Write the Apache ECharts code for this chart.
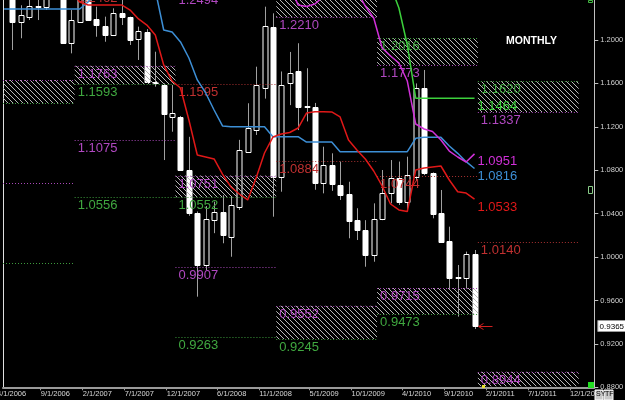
<!DOCTYPE html>
<html><head><meta charset="utf-8">
<script src="https://cdn.jsdelivr.net/npm/echarts@6/dist/echarts.min.js"></script>
<style>html,body{margin:0;padding:0;background:#000;}#c{width:625px;height:400px;}</style>
</head><body><div id="c"></div>
<script>
// ---- candles (month index: 0 = Apr 2006) ----
const months = [2,3,4,5,6,7,8,9,10,11,12,13,14,15,16,17,18,19,20,21,22,23,24,25,26,27,28,29,30,31,32,33,34,35,36,37,38,39,40,41,42,43,44,45,46,47,48,49,50,51,52,53,54,55,56,57];
const opens  = [1.2450,1.2169,1.2215,1.2313,1.2300,1.2420,1.2450,1.1970,1.2170,1.2400,1.2191,1.2129,1.2046,1.2246,1.2209,1.2007,1.2077,1.1616,1.1585,1.1294,1.1293,1.0802,1.0403,0.9927,1.0340,1.0418,1.0187,1.0464,1.0971,1.1171,1.1555,1.2123,1.0741,1.1601,1.1714,1.1380,1.1385,1.0685,1.0848,1.0664,1.0581,1.0341,1.0249,1.0019,1.0348,1.0588,1.0726,1.0510,1.0735,1.1555,1.0772,1.0403,1.0151,0.9804,0.9804,1.0028];
const highs  = [1.2500,1.2320,1.2380,1.2400,1.2450,1.2600,1.2500,1.2276,1.2450,1.2450,1.2307,1.2215,1.2292,1.2380,1.2215,1.2123,1.2100,1.1892,1.1600,1.1585,1.1300,1.1108,1.0420,1.0470,1.0510,1.0570,1.0556,1.1080,1.1417,1.1754,1.2307,1.2246,1.1710,1.1890,1.1970,1.1740,1.1420,1.1017,1.0956,1.0880,1.0694,1.0450,1.0340,1.0495,1.0802,1.0894,1.0880,1.0925,1.1600,1.1724,1.0780,1.0618,1.0280,0.9927,1.0050,1.0065];
const lows   = [1.1908,1.2016,1.2184,1.2184,1.2277,1.2390,1.1965,1.1877,1.2160,1.2184,1.2030,1.1984,1.2040,1.2138,1.1954,1.1816,1.1616,1.1570,1.0894,1.1155,1.0795,1.0380,0.9635,0.9880,1.0220,1.0127,1.0003,1.0434,1.0960,1.1125,1.1460,1.0372,1.0602,1.1400,1.1170,1.1250,1.0620,1.0587,1.0610,1.0526,1.0173,1.0157,0.9911,0.9957,1.0340,1.0495,1.0480,1.0420,1.0700,1.0755,1.0357,1.0132,0.9697,0.9451,0.9710,0.9337];
const closes = [1.2169,1.2230,1.2313,1.2315,1.2400,1.2550,1.1970,1.2184,1.2400,1.2184,1.2138,1.2046,1.2246,1.2209,1.2000,1.2083,1.1616,1.1600,1.1315,1.1330,1.0802,1.0403,0.9927,1.0348,1.0417,1.0203,1.0480,1.0987,1.1186,1.1585,1.2129,1.0740,1.1585,1.1693,1.1380,1.1390,1.0685,1.0848,1.0673,1.0572,1.0335,1.0249,1.0019,1.0348,1.0593,1.0726,1.0510,1.0756,1.1555,1.0772,1.0397,1.0140,0.9804,0.9813,1.0028,0.9365];

// ---- indicator lines ----
const blueMonths = [1,2,3,4,5,6,7,8,9,10,11,12,13,14,15,16,17,18,19,20,21,22,23,24,25,26,27,28,29,30,31,32,33,34,35,36,37,38,39,40,41,42,43,44,45,46,47,48,49,50,51,52,53,54,55,56,57];
const blueValues = [1.2286,1.2286,1.2286,1.2286,1.2286,1.2286,1.2286,1.2286,1.2286,1.2286,1.2350,1.2450,1.2450,1.2450,1.2450,1.2450,1.2450,1.2450,1.2460,1.2092,1.2074,1.1982,1.1834,1.1632,1.1512,1.1355,1.1208,1.1201,1.1201,1.1201,1.1201,1.1201,1.1109,1.1109,1.1109,1.1109,1.1060,1.1060,1.1060,1.1060,1.0971,1.0971,1.0971,1.0971,1.0971,1.0971,1.0971,1.0971,1.0971,1.1094,1.1103,1.1103,1.1103,1.1023,1.0956,1.0879,1.0816];
const redMonths = [9,10,11,12,13,14,15,16,17,18,19,20,21,22,23,24,25,26,27,28,29,30,31,32,33,34,35,36,37,38,39,40,41,42,43,44,45,46,47,48,49,50,51,52,53,54,55,56,57];
const redValues = [1.2450,1.2350,1.2323,1.2323,1.2323,1.2323,1.2323,1.2276,1.2194,1.2138,1.2046,1.1770,1.1622,1.1558,1.1263,1.0940,1.0922,1.0904,1.0765,1.0646,1.0581,1.0526,1.0729,1.0959,1.1106,1.1134,1.1148,1.1189,1.1327,1.1339,1.1339,1.1337,1.1291,1.1079,1.0987,1.0904,1.0793,1.0655,1.0489,1.0434,1.0420,1.0802,1.0821,1.0830,1.0839,1.0710,1.0602,1.0590,1.0533];
const magentaMonths = [35,36,37,38,39,40,41,42,43,44,45,46,47,48,49,50,51,52,53,54,55,56,57];
const magentaValues = [1.2500,1.2323,1.2309,1.2332,1.2400,1.2500,1.2500,1.2500,1.2450,1.2313,1.2203,1.1926,1.1853,1.1788,1.1622,1.1226,1.1180,1.1157,1.1079,1.0977,1.0922,1.0876,1.0951];
const greenMonths = [47,48,49,50,51,52,53,54,55,56,57];
const greenValues = [1.2500,1.2295,1.1954,1.1464,1.1464,1.1464,1.1464,1.1464,1.1464,1.1464,1.1464];

// ---- yearly periods and pivot levels ----
const periodStart = [0.87, 9.4, 21.4, 33.4, 45.4, 57.4];
const periodEnd   = [9.4, 21.4, 33.4, 45.4, 57.4, 69.4];
const levelPeriod = [0,0,0,0, 1,1,1,1,1, 2,2,2,2,2,2, 3,3,3,3,3, 4,4,4,4,4, 5,5,5,5];
const levelKind   = ['m','g','m','g', 'r','m','g','m','g', 'm','r','m','g','m','g', 'g','m','r','m','g', 'g','m','r','m','g', 'g','m','r','m'];
const levelValue  = [1.1631,1.1417,1.0682,0.9948, 1.2462,1.1763,1.1593,1.1075,1.0556, 1.2445,1.1595,1.0751,1.0552,0.9907,0.9263, 1.2600,1.2210,1.0884,0.9552,0.9245, 1.2016,1.1773,1.0744,0.9715,0.9473, 1.1620,1.1337,1.0140,0.8944];
const levelText   = ['','','','', '1.2462','1.1763','1.1593','1.1075','1.0556', '1.2494','1.1595','1.0751','1.0552','0.9907','0.9263', '','1.2210','1.0884','0.9552','0.9245', '1.2016','1.1773','1.0744','0.9715','0.9473', '1.1620','1.1337','1.0140','0.8944'];
const zonePeriod = [0,1,2,3,3,4,4,5,5];
const zoneTop    = [1.1631,1.1763,1.0751,1.2600,0.9552,1.2016,0.9715,1.1620,0.8944];
const zoneBottom = [1.1417,1.1593,1.0552,1.2210,0.9245,1.1773,0.9473,1.1337,0.8600];

// ---- axis ticks ----
const tickMonths = [5,10,15,20,26,31,37,42,48,53,58,63,68];
const tickLabels = ['9/1/2006','2/1/2007','7/1/2007','12/1/2007','6/1/2008','11/1/2008','5/1/2009','10/1/2009','4/1/2010','9/1/2010','2/1/2011','7/1/2011','12/1/2011'];
const firstLabel = '4/1/2006';
const lastMonth = months[months.length - 1];
const lastPrice = closes[closes.length - 1];

const FONT = '"Liberation Sans", Arial, sans-serif';
const lineCol = { m: '#a848b8', g: '#3c9a3c', r: '#a83030' };
const textCol = { m: '#b048c0', g: '#40a840', r: '#c03030' };

// hatch pattern
const pc = document.createElement('canvas');
pc.width = 5; pc.height = 5;
const g2 = pc.getContext('2d');
g2.strokeStyle = '#b8b8b8'; g2.lineWidth = 1;
for (let k = -5; k <= 5; k += 5) { g2.beginPath(); g2.moveTo(k, 0); g2.lineTo(k + 5, 5); g2.stroke(); }

const chart = echarts.init(document.getElementById('c'));
const TICK_OFF = 0.36;

function candleItem(params, api) {
  const x = api.value(0), o = api.value(1), h = api.value(2), l = api.value(3), c = api.value(4);
  const pO = api.coord([x, o]), pC = api.coord([x, c]), pH = api.coord([x, h]), pL = api.coord([x, l]);
  const xm = Math.round(pO[0]) + 0.5;
  const top = Math.round(Math.min(pO[1], pC[1])) + 0.5, bot = Math.round(Math.max(pO[1], pC[1])) + 0.5;
  const up = c >= o;
  return { type: 'group', children: [
    { type: 'line', shape: { x1: xm, y1: pH[1], x2: xm, y2: pL[1] }, style: { stroke: '#a0a0a0', lineWidth: 1 } },
    { type: 'rect', shape: { x: xm - 2.5, y: top, width: 5, height: Math.max(bot - top, 1) },
      style: { fill: up ? '#000' : '#fff', stroke: '#fff', lineWidth: 1 } }
  ]};
}

function levelItem(params, api) {
  const i = params.dataIndex;
  const p0 = api.coord([api.value(0), api.value(2)]);
  const p1 = api.coord([api.value(1), api.value(2)]);
  const y = Math.round(p0[1]) + 0.5;
  const k = levelKind[i];
  const ch = [{ type: 'line', shape: { x1: p0[0], y1: y, x2: p1[0], y2: y },
    style: { stroke: lineCol[k], lineWidth: 1, lineDash: [1, 2] } }];
  if (levelText[i]) {
    ch.push({ type: 'text', x: p0[0] + 3, y: y + 8, style: { text: levelText[i], fill: textCol[k],
      fontSize: 13, fontFamily: FONT, align: 'left', verticalAlign: 'middle' } });
  }
  return { type: 'group', children: ch };
}

function zoneItem(params, api) {
  const cs = params.coordSys;
  const p0 = api.coord([api.value(0), api.value(2)]);
  const p1 = api.coord([api.value(1), api.value(3)]);
  const y0 = Math.max(p0[1], cs.y), y1 = Math.min(p1[1], cs.y + cs.height - 1);
  return { type: 'rect', shape: { x: p0[0], y: y0, width: p1[0] - p0[0], height: Math.max(y1 - y0, 0) },
    style: { fill: { image: pc, repeat: 'repeat' } } };
}

function arrowItem(params, api) {
  const p = api.coord([api.value(0), api.value(1)]);
  const y = Math.round(p[1]) + 0.5;
  return { type: 'group', children: [
    { type: 'line', shape: { x1: p[0] + 4, y1: y, x2: p[0] + 18, y2: y }, style: { stroke: '#d02020', lineWidth: 1 } },
    { type: 'polyline', shape: { points: [[p[0] + 9, y - 3], [p[0] + 4, y], [p[0] + 9, y + 3]] }, style: { stroke: '#d02020', fill: null, lineWidth: 1 } }
  ]};
}

function priceTagItem(params, api) {
  const cs = params.coordSys;
  const p = api.coord([api.value(0), api.value(1)]);
  const y = Math.round(p[1]);
  const x0 = cs.x + cs.width + 3;
  return { type: 'group', children: [
    { type: 'rect', shape: { x: x0 + 0.5, y: y - 5.5, width: 28, height: 11 }, style: { fill: '#ffffff', stroke: '#9a9a9a', lineWidth: 1 } },
    { type: 'text', x: x0 + 14.5, y: y + 0.5, style: { text: api.value(1).toFixed(4), fill: '#000', fontSize: 8, fontFamily: FONT, align: 'center', verticalAlign: 'middle' } }
  ]};
}

function lineSeries(name, xs, ys, color) {
  return {
    name, type: 'line', data: xs.map((m, i) => [m, ys[i]]), symbol: 'none', z: 6,
    lineStyle: { color, width: 1.5 }, itemStyle: { color }, animation: false,
    endLabel: { show: true, formatter: p => p.value[1].toFixed(4), color, fontSize: 13, fontFamily: FONT, offset: [0, 8], distance: 3 }
  };
}

chart.setOption({
  backgroundColor: '#000',
  animation: false,
  grid: { left: 3, right: 30.7, top: 0, bottom: 12.7, outerBoundsMode: 'none', containLabel: false },
  xAxis: [{
    type: 'value', min: 0.87, max: 71.26,
    axisLine: { show: true, onZero: false, lineStyle: { color: '#9a9a9a', width: 2 } },
    axisTick: { show: true, customValues: tickMonths.map(m => m + TICK_OFF), length: 3, lineStyle: { color: '#9a9a9a' } },
    axisLabel: { show: true, customValues: tickMonths.map(m => m + TICK_OFF), align: 'left', margin: 3,
      color: '#d8d8d8', fontSize: 7.5, fontFamily: FONT,
      formatter: v => { const i = tickMonths.indexOf(Math.round(v - TICK_OFF)); return i >= 0 ? tickLabels[i] : ''; } },
    splitLine: { show: false }
  }],
  yAxis: [{
    type: 'value', position: 'right', min: 0.88, max: 1.23686, interval: 0.04,
    axisLine: { show: true, onZero: false, lineStyle: { color: '#c0c0c0', width: 1 } },
    axisTick: { show: true, length: 4, lineStyle: { color: '#c0c0c0' } },
    axisLabel: { color: '#d0d0d0', fontSize: 7.5, fontFamily: FONT, margin: 6, showMaxLabel: false,
      formatter: v => v.toFixed(4) },
    splitLine: { show: false }
  }, {
    type: 'value', position: 'left', min: 0.88, max: 1.23686,
    axisLine: { show: true, onZero: false, lineStyle: { color: '#e0e0e0', width: 1 } },
    axisTick: { show: false }, axisLabel: { show: false }, splitLine: { show: false }
  }],
  series: [
    { type: 'custom', name: 'candles', renderItem: candleItem, z: 2, animation: false,
      encode: { x: 0, y: [1, 2, 3, 4] },
      data: months.map((m, i) => [m, opens[i], highs[i], lows[i], closes[i]]) },
    { type: 'custom', name: 'zones', renderItem: zoneItem, z: 3, animation: false, silent: true,
      encode: { x: [0, 1], y: [2, 3] },
      data: zonePeriod.map((p, i) => [periodStart[p], periodEnd[p], zoneTop[i], zoneBottom[i]]) },
    { type: 'custom', name: 'levels', renderItem: levelItem, z: 4, animation: false, silent: true,
      encode: { x: [0, 1], y: 2 },
      data: levelPeriod.map((p, i) => [periodStart[p], periodEnd[p], levelValue[i]]) },
    lineSeries('blue', blueMonths, blueValues, '#3d8fd6'),
    lineSeries('red', redMonths, redValues, '#e01818'),
    lineSeries('magenta', magentaMonths, magentaValues, '#d030d8'),
    lineSeries('green', greenMonths, greenValues, '#3cd03c'),
    { type: 'custom', name: 'arrow', renderItem: arrowItem, z: 7, animation: false, silent: true,
      encode: { x: 0, y: 1 }, data: [[lastMonth, lastPrice]] },
    { type: 'custom', name: 'price', renderItem: priceTagItem, z: 8, animation: false, silent: true, clip: false,
      encode: { x: 0, y: 1 }, data: [[lastMonth, lastPrice]] }
  ],
  graphic: [
    { type: 'text', x: 506, y: 36, z: 10, style: { text: 'MONTHLY', fill: '#ffffff', font: 'bold 10.5px ' + FONT } },
    { type: 'text', x: -3, y: 390, z: 10, style: { text: firstLabel, fill: '#d8d8d8', fontSize: 7.5, fontFamily: FONT } },
    { type: 'rect', z: 10, shape: { x: 595, y: 390, width: 8, height: 10 }, style: { fill: '#c8c8c8', stroke: '#ffffff' } },
    { type: 'text', z: 11, x: 596, y: 391, style: { text: 'SY', fill: '#000', fontSize: 7, fontFamily: FONT } },
    { type: 'rect', z: 10, shape: { x: 604, y: 390, width: 9, height: 10 }, style: { fill: '#c8c8c8', stroke: '#ffffff' } },
    { type: 'text', z: 11, x: 605, y: 391, style: { text: 'TF', fill: '#000', fontSize: 7, fontFamily: FONT } },
    { type: 'rect', z: 10, shape: { x: 588, y: 382, width: 6, height: 6 }, style: { fill: '#22dd22' } },
    { type: 'rect', z: 10, shape: { x: 588.5, y: 0.5, width: 4, height: 2 }, style: { fill: null, stroke: '#44bb44' } },
    { type: 'rect', z: 10, shape: { x: 588.5, y: 186.5, width: 4, height: 7 }, style: { fill: null, stroke: '#88cc88' } },
    { type: 'rect', z: 10, shape: { x: 482, y: 385, width: 3, height: 3 }, style: { fill: '#e8e030' } }
  ]
});
</script>
</body></html>
